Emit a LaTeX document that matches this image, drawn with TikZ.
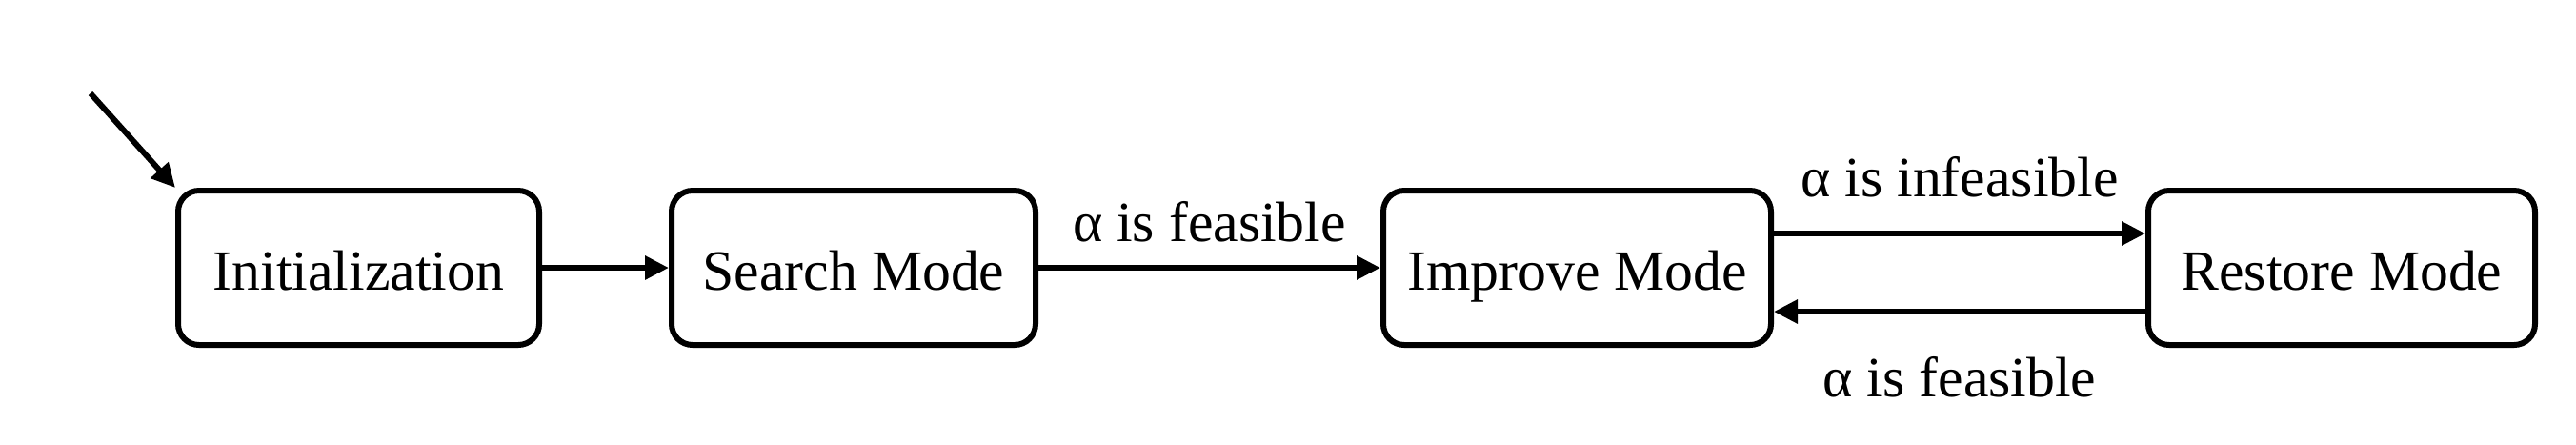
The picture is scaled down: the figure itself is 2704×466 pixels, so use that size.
\documentclass[tikz,border=0pt]{standalone}
\usepackage{fontspec}
\setmainfont{Liberation Serif}
\usetikzlibrary{arrows.meta,calc}
\begin{document}
\begin{tikzpicture}[x=0.1mm,y=-0.1mm,
  statebox/.style={draw, line width=0.6mm, rounded corners=2.2mm, minimum height=16.2mm, inner sep=0pt, text height=13.6pt, text depth=0pt, font=\fontsize{17}{20}\selectfont},
  conn/.style={line width=0.6mm, -{Triangle[length=2.5mm,width=2.4mm]}},
  lbl/.style={inner sep=0pt, font=\fontsize{17}{20}\selectfont}]
\useasboundingbox (0,0) rectangle (2704,466);
\fill[white] (0,0) rectangle (2704,466);
\node[statebox, minimum width=37.9mm] (init) at (376.5,281) {Initialization};
\node[statebox, minimum width=38.2mm] (search) at (896,281) {Search Mode};
\node[statebox, minimum width=40.7mm] (improve) at (1655.5,281) {Improve Mode};
\node[statebox, minimum width=40.6mm] (restore) at (2458,281) {Restore Mode};
\coordinate (start) at (95,98);
\draw[conn] (start) -- (init.north west);
\draw[conn] (init) -- (search);
\draw[conn] (search) -- node[lbl, midway, above=2.4mm] {α is feasible} (improve);
\draw[conn] ($(improve.east)+(0,-36)$) -- node[lbl, midway, above=3.5mm] {α is infeasible} ($(restore.west)+(0,-36)$);
\draw[conn] ($(restore.west)+(0,46)$) -- node[lbl, midway, below=4.4mm] {α is feasible} ($(improve.east)+(0,46)$);
\end{tikzpicture}
\end{document}
